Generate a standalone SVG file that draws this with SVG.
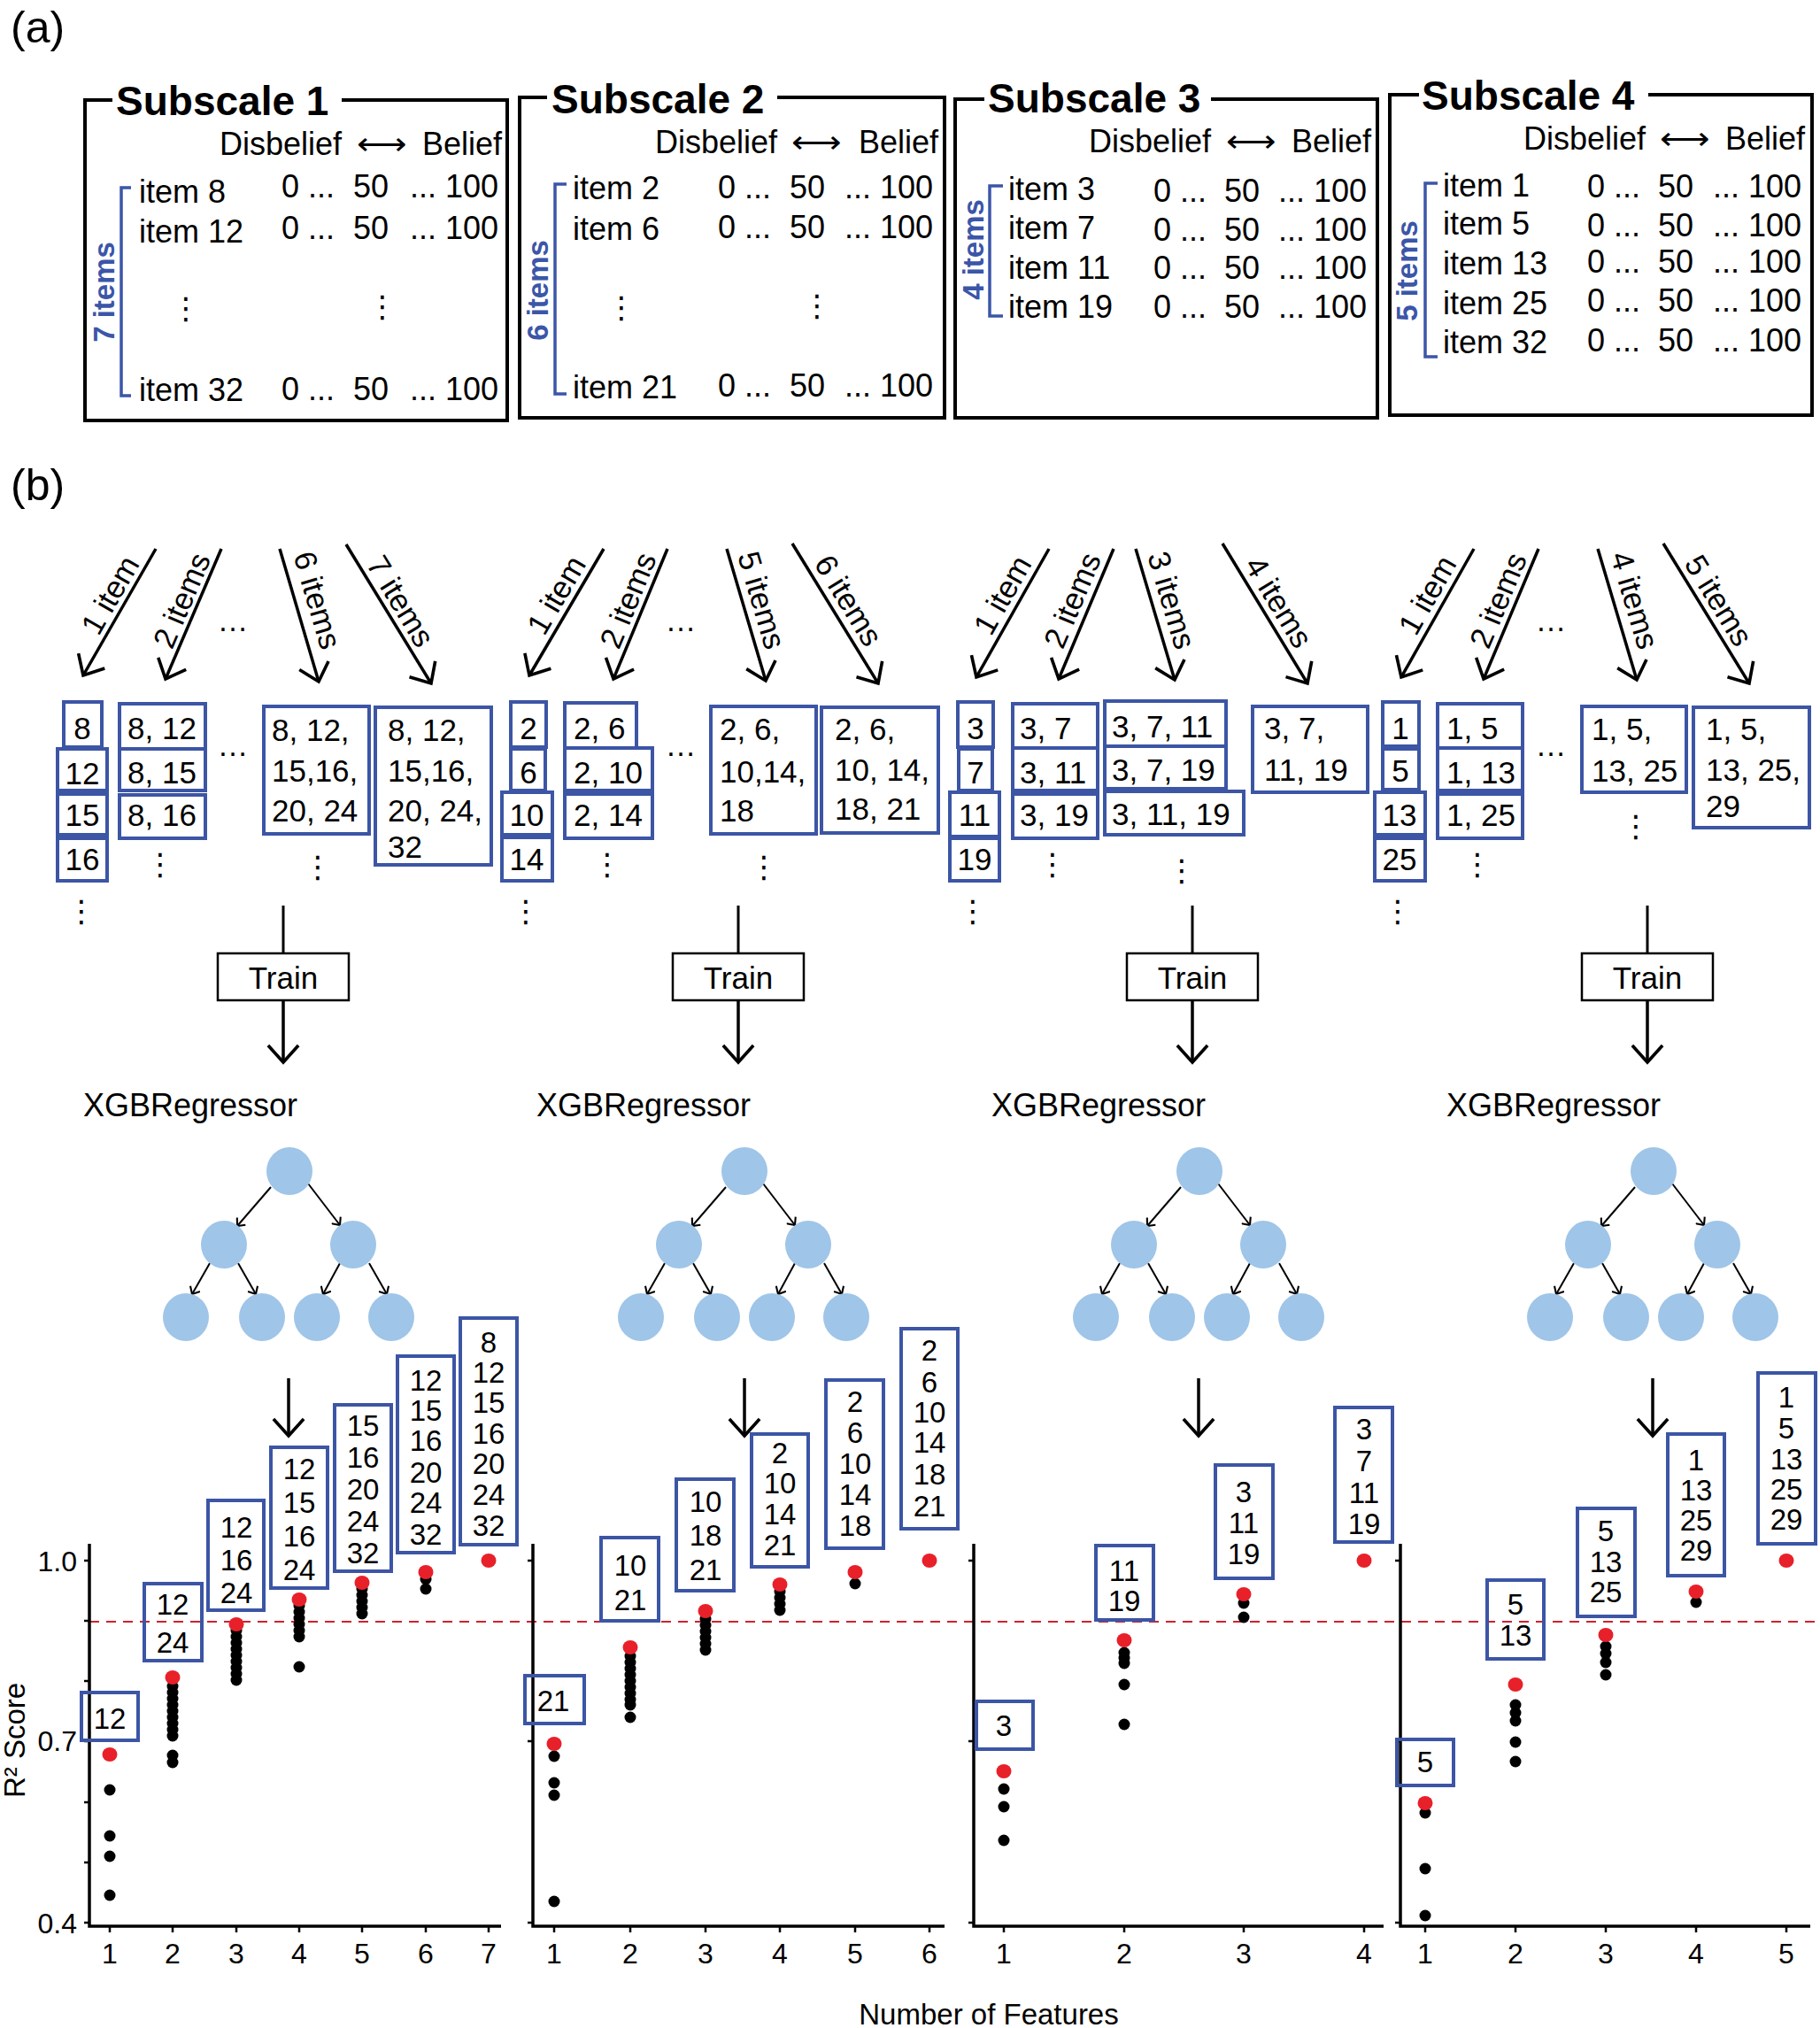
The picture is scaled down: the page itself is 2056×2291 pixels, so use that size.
<svg xmlns="http://www.w3.org/2000/svg" width="2056" height="2291" viewBox="0 0 2056 2291">
<defs>
<style>
text{font-family:"Liberation Sans",Arial,sans-serif;fill:#000}
.lab{font-size:50px}
.ttl{font-size:46px;font-weight:bold}
.f36{font-size:36px}
.f35{font-size:35px}
.f33{font-size:33px}
.f30{font-size:32px}
.vd{font-family:"DejaVu Sans",sans-serif;font-size:34px;text-anchor:middle}
.frame{fill:none;stroke:#000;stroke-width:4}
.brk{fill:none;stroke:#3b56a8;stroke-width:3.5}
.btxt{fill:#3b56a8;font-size:33px;font-weight:bold;text-anchor:middle}
.bb{fill:none;stroke:#3c55a5;stroke-width:4}
.arr{stroke:#000;stroke-width:3.5;fill:none;marker-end:url(#ah)}
.tarr{stroke:#000;stroke-width:2;fill:none;marker-end:url(#ahs)}
.ln{stroke:#000;stroke-width:3;fill:none}
.tb{fill:#fff;stroke:#000;stroke-width:2.5}
.node{fill:#9fc5e8}
.ax{stroke:#000;stroke-width:3.5;fill:none}
.tk{stroke:#000;stroke-width:2.5}
.dash{stroke:#d0212d;stroke-width:2;stroke-dasharray:11 8;fill:none}
.bk{fill:#000}
.rd{fill:#e8202a}
.mid{text-anchor:middle}
.end{text-anchor:end}
</style>
<marker id="ah" viewBox="0 0 20 20" refX="15" refY="10" markerWidth="38" markerHeight="38" markerUnits="userSpaceOnUse" orient="auto"><path d="M5,1 L15,10 L5,19" fill="none" stroke="#000" stroke-width="1.9"/></marker>
<marker id="ahs" viewBox="0 0 20 20" refX="15" refY="10" markerWidth="14" markerHeight="14" markerUnits="userSpaceOnUse" orient="auto"><path d="M5,1 L15,10 L5,19" fill="none" stroke="#000" stroke-width="3"/></marker>
<g id="tree">
<line class="tarr" x1="-21" y1="18" x2="-59" y2="62"/>
<line class="tarr" x1="21" y1="14" x2="57" y2="61"/>
<line class="tarr" x1="-90" y1="104" x2="-110" y2="139"/>
<line class="tarr" x1="-58" y1="104" x2="-38" y2="139"/>
<line class="tarr" x1="57" y1="104" x2="38" y2="139"/>
<line class="tarr" x1="90" y1="104" x2="110" y2="139"/>
<ellipse class="node" cx="0" cy="0" rx="26" ry="27"/>
<ellipse class="node" cx="-74" cy="83" rx="26" ry="27"/>
<ellipse class="node" cx="72" cy="83" rx="26" ry="27"/>
<ellipse class="node" cx="-117" cy="165" rx="26" ry="27"/>
<ellipse class="node" cx="-31" cy="165" rx="26" ry="27"/>
<ellipse class="node" cx="31" cy="165" rx="26" ry="27"/>
<ellipse class="node" cx="115" cy="165" rx="26" ry="27"/>
</g>
</defs>
<rect width="2056" height="2291" fill="#fff"/>

<text class="lab" x="12" y="48">(a)</text>
<text class="lab" x="12" y="565">(b)</text>

<!-- Part (a) -->
<g id="subscale1">
<path class="frame" d="M386,113 H573 V475 H96 V113 H127"/>
<text class="ttl" x="131" y="130">Subscale 1</text>
<text class="f36" x="248" y="175">Disbelief</text><text class="f36" x="403" y="175" textLength="57" lengthAdjust="spacingAndGlyphs">⟷</text><text class="f36" x="477" y="175">Belief</text>
<path class="brk" d="M148,212 H137 V447 H148"/>
<text class="btxt" transform="translate(117,330) rotate(-90)" dominant-baseline="central">7 items</text>
<text class="f36" x="157" y="229">item 8</text>
<text class="f36" x="157" y="274">item 12</text>
<text class="f36" x="157" y="453">item 32</text>
<text class="f36" y="223"><tspan x="318">0 ...</tspan><tspan x="399">50</tspan><tspan x="463">... 100</tspan></text>
<text class="f36" y="270"><tspan x="318">0 ...</tspan><tspan x="399">50</tspan><tspan x="463">... 100</tspan></text>
<text class="f36" y="452"><tspan x="318">0 ...</tspan><tspan x="399">50</tspan><tspan x="463">... 100</tspan></text>
<text class="vd" x="210" y="360">⋮</text><text class="vd" x="432" y="358">⋮</text>
</g>
<g id="subscale2">
<path class="frame" d="M878,110 H1067 V472 H587 V110 H618"/>
<text class="ttl" x="623" y="128">Subscale 2</text>
<text class="f36" x="740" y="173">Disbelief</text><text class="f36" x="894" y="173" textLength="57" lengthAdjust="spacingAndGlyphs">⟷</text><text class="f36" x="970" y="173">Belief</text>
<path class="brk" d="M640,208 H627 V445 H640"/>
<text class="btxt" transform="translate(607,328) rotate(-90)" dominant-baseline="central">6 items</text>
<text class="f36" x="647" y="225">item 2</text>
<text class="f36" x="647" y="271">item 6</text>
<text class="f36" x="647" y="450">item 21</text>
<text class="f36" y="224"><tspan x="811">0 ...</tspan><tspan x="892">50</tspan><tspan x="954">... 100</tspan></text>
<text class="f36" y="269"><tspan x="811">0 ...</tspan><tspan x="892">50</tspan><tspan x="954">... 100</tspan></text>
<text class="f36" y="448"><tspan x="811">0 ...</tspan><tspan x="892">50</tspan><tspan x="954">... 100</tspan></text>
<text class="vd" x="702" y="359">⋮</text><text class="vd" x="923" y="357">⋮</text>
</g>
<g id="subscale3">
<path class="frame" d="M1368,112 H1556 V472 H1079 V112 H1112"/>
<text class="ttl" x="1116" y="127">Subscale 3</text>
<text class="f36" x="1230" y="172">Disbelief</text><text class="f36" x="1385" y="172" textLength="57" lengthAdjust="spacingAndGlyphs">⟷</text><text class="f36" x="1459" y="172">Belief</text>
<path class="brk" d="M1133,210 H1118 V357 H1133"/>
<text class="btxt" transform="translate(1099,282) rotate(-90)" dominant-baseline="central">4 items</text>
<text class="f36" x="1139" y="226">item 3</text>
<text class="f36" x="1139" y="270">item 7</text>
<text class="f36" x="1139" y="315">item 11</text>
<text class="f36" x="1139" y="359">item 19</text>
<text class="f36" y="228"><tspan x="1303">0 ...</tspan><tspan x="1383">50</tspan><tspan x="1444">... 100</tspan></text>
<text class="f36" y="272"><tspan x="1303">0 ...</tspan><tspan x="1383">50</tspan><tspan x="1444">... 100</tspan></text>
<text class="f36" y="315"><tspan x="1303">0 ...</tspan><tspan x="1383">50</tspan><tspan x="1444">... 100</tspan></text>
<text class="f36" y="359"><tspan x="1303">0 ...</tspan><tspan x="1383">50</tspan><tspan x="1444">... 100</tspan></text>
</g>
<g id="subscale4">
<path class="frame" d="M1862,107 H2047 V469 H1570 V107 H1603"/>
<text class="ttl" x="1606" y="124">Subscale 4</text>
<text class="f36" x="1721" y="169">Disbelief</text><text class="f36" x="1875" y="169" textLength="57" lengthAdjust="spacingAndGlyphs">⟷</text><text class="f36" x="1949" y="169">Belief</text>
<path class="brk" d="M1624,207 H1610 V403 H1624"/>
<text class="btxt" transform="translate(1589,306) rotate(-90)" dominant-baseline="central">5 items</text>
<text class="f36" x="1630" y="222">item 1</text>
<text class="f36" x="1630" y="265">item 5</text>
<text class="f36" x="1630" y="310">item 13</text>
<text class="f36" x="1630" y="355">item 25</text>
<text class="f36" x="1630" y="399">item 32</text>
<text class="f36" y="223"><tspan x="1793">0 ...</tspan><tspan x="1873">50</tspan><tspan x="1935">... 100</tspan></text>
<text class="f36" y="267"><tspan x="1793">0 ...</tspan><tspan x="1873">50</tspan><tspan x="1935">... 100</tspan></text>
<text class="f36" y="308"><tspan x="1793">0 ...</tspan><tspan x="1873">50</tspan><tspan x="1935">... 100</tspan></text>
<text class="f36" y="352"><tspan x="1793">0 ...</tspan><tspan x="1873">50</tspan><tspan x="1935">... 100</tspan></text>
<text class="f36" y="397"><tspan x="1793">0 ...</tspan><tspan x="1873">50</tspan><tspan x="1935">... 100</tspan></text>
</g>

<!-- Connectors -->
<g id="connectors">
<line class="arr" x1="176" y1="620" x2="94" y2="763"/>
<line class="arr" x1="250" y1="620" x2="187" y2="767"/>
<line class="arr" x1="316" y1="620" x2="360" y2="770"/>
<line class="arr" x1="391" y1="615" x2="487" y2="772"/>
<line class="arr" x1="682" y1="620" x2="598" y2="763"/>
<line class="arr" x1="754" y1="620" x2="693" y2="767"/>
<line class="arr" x1="821" y1="620" x2="865" y2="769"/>
<line class="arr" x1="895" y1="614" x2="992" y2="772"/>
<line class="arr" x1="1185" y1="620" x2="1103" y2="765"/>
<line class="arr" x1="1258" y1="620" x2="1196" y2="767"/>
<line class="arr" x1="1283" y1="620" x2="1327" y2="768"/>
<line class="arr" x1="1381" y1="614" x2="1477" y2="772"/>
<line class="arr" x1="1665" y1="620" x2="1583" y2="765"/>
<line class="arr" x1="1738" y1="620" x2="1676" y2="767"/>
<line class="arr" x1="1805" y1="620" x2="1849" y2="768"/>
<line class="arr" x1="1879" y1="614" x2="1976" y2="772"/>
<line class="ln" x1="320" y1="1023" x2="320" y2="1077"/>
<line class="arr" x1="320" y1="1130" x2="320" y2="1200"/>
<line class="ln" x1="834" y1="1023" x2="834" y2="1077"/>
<line class="arr" x1="834" y1="1130" x2="834" y2="1200"/>
<line class="ln" x1="1347" y1="1023" x2="1347" y2="1077"/>
<line class="arr" x1="1347" y1="1130" x2="1347" y2="1200"/>
<line class="ln" x1="1861" y1="1023" x2="1861" y2="1077"/>
<line class="arr" x1="1861" y1="1130" x2="1861" y2="1200"/>
<line class="arr" x1="326" y1="1557" x2="326" y2="1622"/>
<line class="arr" x1="841" y1="1557" x2="841" y2="1622"/>
<line class="arr" x1="1354" y1="1557" x2="1354" y2="1622"/>
<line class="arr" x1="1867" y1="1557" x2="1867" y2="1622"/>
</g>

<!-- arrow labels -->
<g id="arrow-labels" class="f35">
<text class="mid" transform="translate(124,672) rotate(-60.2)" dominant-baseline="central">1 item</text>
<text class="mid" transform="translate(205,678) rotate(-66.8)" dominant-baseline="central">2 items</text>
<text class="mid" transform="translate(359,678) rotate(73.7)" dominant-baseline="central">6 items</text>
<text class="mid" transform="translate(453,679) rotate(58.6)" dominant-baseline="central">7 items</text>
<text class="mid" x="263" y="713">…</text>
<text class="mid" transform="translate(628,672) rotate(-59.6)" dominant-baseline="central">1 item</text>
<text class="mid" transform="translate(709,678) rotate(-67.5)" dominant-baseline="central">2 items</text>
<text class="mid" transform="translate(861,678) rotate(73.5)" dominant-baseline="central">5 items</text>
<text class="mid" transform="translate(959,678) rotate(58.5)" dominant-baseline="central">6 items</text>
<text class="mid" x="769" y="713">…</text>
<text class="mid" transform="translate(1132,672) rotate(-60.5)" dominant-baseline="central">1 item</text>
<text class="mid" transform="translate(1211,678) rotate(-67.1)" dominant-baseline="central">2 items</text>
<text class="mid" transform="translate(1324,678) rotate(73.4)" dominant-baseline="central">3 items</text>
<text class="mid" transform="translate(1445,680) rotate(58.7)" dominant-baseline="central">4 items</text>
<text class="mid" transform="translate(1612,672) rotate(-60.5)" dominant-baseline="central">1 item</text>
<text class="mid" transform="translate(1692,678) rotate(-67.1)" dominant-baseline="central">2 items</text>
<text class="mid" transform="translate(1847,678) rotate(73.4)" dominant-baseline="central">4 items</text>
<text class="mid" transform="translate(1942,678) rotate(58.5)" dominant-baseline="central">5 items</text>
<text class="mid" x="1752" y="713">…</text>
</g>

<!-- Combination boxes -->
<g id="combos1" class="f35">
<rect class="bb" x="72" y="793" width="43" height="51"/><text class="mid" x="93" y="835">8</text>
<rect class="bb" x="65" y="846" width="56" height="47"/><text class="mid" x="93" y="886">12</text>
<rect class="bb" x="65" y="897" width="56" height="46"/><text class="mid" x="93" y="933">15</text>
<rect class="bb" x="65" y="947" width="56" height="48"/><text class="mid" x="93" y="983">16</text>
<text class="vd" x="92" y="1041">⋮</text>
<rect class="bb" x="135" y="795" width="97" height="51"/><text x="144" y="835">8, 12</text>
<rect class="bb" x="135" y="846" width="97" height="47"/><text x="144" y="885">8, 15</text>
<rect class="bb" x="135" y="898" width="97" height="49"/><text x="144" y="933">8, 16</text>
<text class="vd" x="181" y="988">⋮</text>
<text class="mid" x="263" y="854">…</text>
<rect class="bb" x="298" y="798" width="119" height="144"/><text x="307" y="837">8, 12,<tspan x="307" y="883">15,16,</tspan><tspan x="307" y="928">20, 24</tspan></text>
<text class="vd" x="359" y="991">⋮</text>
<rect class="bb" x="424" y="799" width="131" height="178"/><text x="438" y="837">8, 12,<tspan x="438" y="883">15,16,</tspan><tspan x="438" y="928">20, 24,</tspan><tspan x="438" y="969">32</tspan></text>
</g>
<g id="combos2" class="f35">
<rect class="bb" x="577" y="793" width="40" height="51"/><text class="mid" x="597" y="835">2</text>
<rect class="bb" x="577" y="846" width="39" height="47"/><text class="mid" x="597" y="885">6</text>
<rect class="bb" x="567" y="895" width="57" height="48"/><text class="mid" x="595" y="933">10</text>
<rect class="bb" x="567" y="946" width="57" height="49"/><text class="mid" x="595" y="983">14</text>
<text class="vd" x="594" y="1041">⋮</text>
<rect class="bb" x="638" y="794" width="81" height="51"/><text x="648" y="835">2, 6</text>
<rect class="bb" x="638" y="845" width="99" height="48"/><text x="648" y="885">2, 10</text>
<rect class="bb" x="638" y="897" width="99" height="50"/><text x="648" y="933">2, 14</text>
<text class="vd" x="686" y="988">⋮</text>
<text class="mid" x="769" y="854">…</text>
<rect class="bb" x="803" y="798" width="119" height="144"/><text x="813" y="836">2, 6,<tspan x="813" y="884">10,14,</tspan><tspan x="813" y="928">18</tspan></text>
<text class="vd" x="863" y="991">⋮</text>
<rect class="bb" x="928" y="799" width="132" height="142"/><text x="943" y="836">2, 6,<tspan x="943" y="882">10, 14,</tspan><tspan x="943" y="926">18, 21</tspan></text>
</g>
<g id="combos3" class="f35">
<rect class="bb" x="1082" y="793" width="40" height="51"/><text class="mid" x="1102" y="835">3</text>
<rect class="bb" x="1083" y="846" width="38" height="47"/><text class="mid" x="1102" y="885">7</text>
<rect class="bb" x="1073" y="895" width="56" height="50"/><text class="mid" x="1101" y="933">11</text>
<rect class="bb" x="1073" y="947" width="56" height="48"/><text class="mid" x="1101" y="983">19</text>
<text class="vd" x="1099" y="1041">⋮</text>
<rect class="bb" x="1144" y="795" width="96" height="50"/><text x="1152" y="835">3, 7</text>
<rect class="bb" x="1144" y="845" width="96" height="48"/><text x="1152" y="885">3, 11</text>
<rect class="bb" x="1144" y="897" width="96" height="50"/><text x="1152" y="933">3, 19</text>
<text class="vd" x="1189" y="988">⋮</text>
<rect class="bb" x="1248" y="792" width="137" height="51"/><text x="1256" y="833">3, 7, 11</text>
<rect class="bb" x="1248" y="843" width="137" height="48"/><text x="1256" y="882">3, 7, 19</text>
<rect class="bb" x="1248" y="894" width="157" height="49"/><text x="1256" y="932">3, 11, 19</text>
<text class="vd" x="1335" y="995">⋮</text>
<rect class="bb" x="1415" y="798" width="130" height="97"/><text x="1428" y="835">3, 7,<tspan x="1428" y="882">11, 19</tspan></text>
</g>
<g id="combos4" class="f35">
<rect class="bb" x="1562" y="793" width="41" height="50"/><text class="mid" x="1582" y="835">1</text>
<rect class="bb" x="1562" y="846" width="41" height="46"/><text class="mid" x="1582" y="883">5</text>
<rect class="bb" x="1553" y="895" width="57" height="48"/><text class="mid" x="1581" y="933">13</text>
<rect class="bb" x="1553" y="947" width="57" height="48"/><text class="mid" x="1581" y="983">25</text>
<text class="vd" x="1579" y="1041">⋮</text>
<rect class="bb" x="1624" y="795" width="96" height="50"/><text x="1634" y="835">1, 5</text>
<rect class="bb" x="1624" y="845" width="96" height="48"/><text x="1634" y="885">1, 13</text>
<rect class="bb" x="1624" y="897" width="96" height="50"/><text x="1634" y="933">1, 25</text>
<text class="vd" x="1669" y="988">⋮</text>
<text class="mid" x="1752" y="854">…</text>
<rect class="bb" x="1787" y="798" width="118" height="97"/><text x="1798" y="836">1, 5,<tspan x="1798" y="883">13, 25</tspan></text>
<text class="vd" x="1848" y="945">⋮</text>
<rect class="bb" x="1913" y="799" width="131" height="136"/><text x="1927" y="836">1, 5,<tspan x="1927" y="882">13, 25,</tspan><tspan x="1927" y="923">29</tspan></text>
</g>

<!-- Train + model -->
<g id="train1"><rect class="tb" x="246" y="1077" width="148" height="53"/><text class="f35 mid" x="320" y="1117">Train</text><text class="f36" x="94" y="1261">XGBRegressor</text><use href="#tree" transform="translate(327,1323)"/></g>
<g id="train2"><rect class="tb" x="760" y="1077" width="148" height="53"/><text class="f35 mid" x="834" y="1117">Train</text><text class="f36" x="606" y="1261">XGBRegressor</text><use href="#tree" transform="translate(841,1323)"/></g>
<g id="train3"><rect class="tb" x="1273" y="1077" width="148" height="53"/><text class="f35 mid" x="1347" y="1117">Train</text><text class="f36" x="1120" y="1261">XGBRegressor</text><use href="#tree" transform="translate(1355,1323)"/></g>
<g id="train4"><rect class="tb" x="1787" y="1077" width="148" height="53"/><text class="f35 mid" x="1861" y="1117">Train</text><text class="f36" x="1634" y="1261">XGBRegressor</text><use href="#tree" transform="translate(1868,1323)"/></g>

<!-- Charts -->
<g id="charts">
<line class="dash" x1="101" y1="1832" x2="2056" y2="1832"/>
<path class="ax" d="M101,1744 V2176 H566"/>
<path class="ax" d="M602,1744 V2176 H1067"/>
<path class="ax" d="M1100,1744 V2176 H1563"/>
<path class="ax" d="M1582,1744 V2176 H2045"/>
<path class="tk" d="M95,1763H101M95,1831H101M95,1899H101M95,1967H101M95,2036H101M95,2104H101M95,2172H101
M596,1763H602M596,1967H602M596,2172H602M1094,1763H1100M1094,1967H1100M1094,2172H1100M1576,1763H1582M1576,1967H1582M1576,2172H1582
M124,2176V2183M195,2176V2183M267,2176V2183M338,2176V2183M409,2176V2183M481,2176V2183M552,2176V2183
M626,2176V2183M712,2176V2183M797,2176V2183M881,2176V2183M966,2176V2183M1050,2176V2183
M1134,2176V2183M1270,2176V2183M1405,2176V2183M1541,2176V2183
M1610,2176V2183M1712,2176V2183M1814,2176V2183M1916,2176V2183M2018,2176V2183"/>
<g class="f30">
<text class="end" x="87" y="1775">1.0</text><text class="end" x="87" y="1978">0.7</text><text class="end" x="87" y="2184">0.4</text>
<g class="mid">
<text x="124" y="2218">1</text><text x="195" y="2218">2</text><text x="267" y="2218">3</text><text x="338" y="2218">4</text><text x="409" y="2218">5</text><text x="481" y="2218">6</text><text x="552" y="2218">7</text>
<text x="626" y="2218">1</text><text x="712" y="2218">2</text><text x="797" y="2218">3</text><text x="881" y="2218">4</text><text x="966" y="2218">5</text><text x="1050" y="2218">6</text>
<text x="1134" y="2218">1</text><text x="1270" y="2218">2</text><text x="1405" y="2218">3</text><text x="1541" y="2218">4</text>
<text x="1610" y="2218">1</text><text x="1712" y="2218">2</text><text x="1814" y="2218">3</text><text x="1916" y="2218">4</text><text x="2018" y="2218">5</text>
</g>
</g>
<text class="f33 mid" transform="translate(16,1966) rotate(-90)" dominant-baseline="central">R² Score</text>
<text class="f33 mid" x="1117" y="2287">Number of Features</text>

<g id="black-dots" class="bk">
<circle cx="124" cy="2022" r="6.5"/><circle cx="124" cy="2074" r="6.5"/><circle cx="124" cy="2097" r="6.5"/><circle cx="124" cy="2141" r="6.5"/>
<circle cx="195" cy="1905" r="6.5"/><circle cx="195" cy="1912" r="6.5"/><circle cx="195" cy="1919" r="6.5"/><circle cx="195" cy="1926" r="6.5"/><circle cx="195" cy="1933" r="6.5"/><circle cx="195" cy="1940" r="6.5"/><circle cx="195" cy="1947" r="6.5"/><circle cx="195" cy="1954" r="6.5"/><circle cx="195" cy="1961" r="6.5"/><circle cx="195" cy="1983" r="6.5"/><circle cx="195" cy="1991" r="6.5"/>
<circle cx="267" cy="1842" r="6.5"/><circle cx="267" cy="1849" r="6.5"/><circle cx="267" cy="1856" r="6.5"/><circle cx="267" cy="1863" r="6.5"/><circle cx="267" cy="1870" r="6.5"/><circle cx="267" cy="1877" r="6.5"/><circle cx="267" cy="1884" r="6.5"/><circle cx="267" cy="1891" r="6.5"/><circle cx="267" cy="1898" r="6.5"/>
<circle cx="338" cy="1814" r="6.5"/><circle cx="338" cy="1821" r="6.5"/><circle cx="338" cy="1828" r="6.5"/><circle cx="338" cy="1835" r="6.5"/><circle cx="338" cy="1842" r="6.5"/><circle cx="338" cy="1849" r="6.5"/><circle cx="338" cy="1883" r="6.5"/>
<circle cx="409" cy="1795" r="6.5"/><circle cx="409" cy="1802" r="6.5"/><circle cx="409" cy="1809" r="6.5"/><circle cx="409" cy="1816" r="6.5"/><circle cx="409" cy="1823" r="6.5"/>
<circle cx="481" cy="1784" r="6.5"/><circle cx="481" cy="1795" r="6.5"/>
<circle cx="626" cy="1984" r="6.5"/><circle cx="626" cy="2014" r="6.5"/><circle cx="626" cy="2028" r="6.5"/><circle cx="626" cy="2148" r="6.5"/>
<circle cx="712" cy="1871" r="6.5"/><circle cx="712" cy="1878" r="6.5"/><circle cx="712" cy="1885" r="6.5"/><circle cx="712" cy="1892" r="6.5"/><circle cx="712" cy="1899" r="6.5"/><circle cx="712" cy="1906" r="6.5"/><circle cx="712" cy="1913" r="6.5"/><circle cx="712" cy="1920" r="6.5"/><circle cx="712" cy="1926" r="6.5"/><circle cx="712" cy="1940" r="6.5"/>
<circle cx="797" cy="1829" r="6.5"/><circle cx="797" cy="1836" r="6.5"/><circle cx="797" cy="1843" r="6.5"/><circle cx="797" cy="1850" r="6.5"/><circle cx="797" cy="1857" r="6.5"/><circle cx="797" cy="1864" r="6.5"/>
<circle cx="881" cy="1798" r="6.5"/><circle cx="881" cy="1805" r="6.5"/><circle cx="881" cy="1812" r="6.5"/><circle cx="881" cy="1819" r="6.5"/>
<circle cx="966" cy="1789" r="6.5"/>
<circle cx="1134" cy="2021" r="6.5"/><circle cx="1134" cy="2041" r="6.5"/><circle cx="1134" cy="2079" r="6.5"/>
<circle cx="1270" cy="1867" r="6.5"/><circle cx="1270" cy="1873" r="6.5"/><circle cx="1270" cy="1879" r="6.5"/><circle cx="1270" cy="1903" r="6.5"/><circle cx="1270" cy="1948" r="6.5"/>
<circle cx="1405" cy="1811" r="6.5"/><circle cx="1405" cy="1827" r="6.5"/>
<circle cx="1610" cy="2048" r="6.5"/><circle cx="1610" cy="2111" r="6.5"/><circle cx="1610" cy="2164" r="6.5"/>
<circle cx="1712" cy="1926" r="6.5"/><circle cx="1712" cy="1935" r="6.5"/><circle cx="1712" cy="1944" r="6.5"/><circle cx="1712" cy="1968" r="6.5"/><circle cx="1712" cy="1990" r="6.5"/>
<circle cx="1814" cy="1860" r="6.5"/><circle cx="1814" cy="1868" r="6.5"/><circle cx="1814" cy="1878" r="6.5"/><circle cx="1814" cy="1892" r="6.5"/>
<circle cx="1916" cy="1810" r="6.5"/>
</g>
<g id="red-dots" class="rd">
<ellipse cx="124" cy="1982" rx="8.5" ry="8"/><ellipse cx="195" cy="1895" rx="8.5" ry="8"/><ellipse cx="267" cy="1835" rx="8.5" ry="8"/><ellipse cx="338" cy="1807" rx="8.5" ry="8"/><ellipse cx="409" cy="1788" rx="8.5" ry="8"/><ellipse cx="481" cy="1776" rx="8.5" ry="8"/><ellipse cx="552" cy="1763" rx="8.5" ry="8"/>
<ellipse cx="626" cy="1970" rx="8.5" ry="8"/><ellipse cx="712" cy="1861" rx="8.5" ry="8"/><ellipse cx="797" cy="1820" rx="8.5" ry="8"/><ellipse cx="881" cy="1790" rx="8.5" ry="8"/><ellipse cx="966" cy="1776" rx="8.5" ry="8"/><ellipse cx="1050" cy="1763" rx="8.5" ry="8"/>
<ellipse cx="1134" cy="2001" rx="8.5" ry="8"/><ellipse cx="1270" cy="1853" rx="8.5" ry="8"/><ellipse cx="1405" cy="1801" rx="8.5" ry="8"/><ellipse cx="1541" cy="1763" rx="8.5" ry="8"/>
<ellipse cx="1610" cy="2037" rx="8.5" ry="8"/><ellipse cx="1712" cy="1903" rx="8.5" ry="8"/><ellipse cx="1814" cy="1847" rx="8.5" ry="8"/><ellipse cx="1916" cy="1798" rx="8.5" ry="8"/><ellipse cx="2018" cy="1763" rx="8.5" ry="8"/>
</g>
</g>

<!-- Selected feature boxes -->
<g id="sel1" class="f33 mid">
<rect class="bb" x="92" y="1912" width="64" height="54"/><text x="124" y="1953">12</text>
<rect class="bb" x="163" y="1789" width="65" height="87"/><text x="195" y="1824">12<tspan x="195" y="1867">24</tspan></text>
<rect class="bb" x="235" y="1695" width="63" height="124"/><text x="267" y="1737">12<tspan x="267" y="1774">16</tspan><tspan x="267" y="1811">24</tspan></text>
<rect class="bb" x="306" y="1635" width="64" height="159"/><text x="338" y="1671">12<tspan x="338" y="1709">15</tspan><tspan x="338" y="1747">16</tspan><tspan x="338" y="1785">24</tspan></text>
<rect class="bb" x="378" y="1587" width="64" height="188"/><text x="410" y="1622">15<tspan x="410" y="1658">16</tspan><tspan x="410" y="1694">20</tspan><tspan x="410" y="1730">24</tspan><tspan x="410" y="1766">32</tspan></text>
<rect class="bb" x="449" y="1532" width="64" height="222"/><text x="481" y="1571">12<tspan x="481" y="1605">15</tspan><tspan x="481" y="1639">16</tspan><tspan x="481" y="1675">20</tspan><tspan x="481" y="1709">24</tspan><tspan x="481" y="1745">32</tspan></text>
<rect class="bb" x="520" y="1489" width="64" height="256"/><text x="552" y="1528">8<tspan x="552" y="1562">12</tspan><tspan x="552" y="1596">15</tspan><tspan x="552" y="1631">16</tspan><tspan x="552" y="1665">20</tspan><tspan x="552" y="1700">24</tspan><tspan x="552" y="1735">32</tspan></text>
</g>
<g id="sel2" class="f33 mid">
<rect class="bb" x="593" y="1893" width="67" height="54"/><text x="625" y="1933">21</text>
<rect class="bb" x="679" y="1737" width="65" height="94"/><text x="712" y="1780">10<tspan x="712" y="1819">21</tspan></text>
<rect class="bb" x="764" y="1671" width="65" height="126"/><text x="797" y="1708">10<tspan x="797" y="1746">18</tspan><tspan x="797" y="1785">21</tspan></text>
<rect class="bb" x="849" y="1620" width="64" height="150"/><text x="881" y="1653">2<tspan x="881" y="1687">10</tspan><tspan x="881" y="1722">14</tspan><tspan x="881" y="1757">21</tspan></text>
<rect class="bb" x="933" y="1559" width="65" height="190"/><text x="966" y="1595">2<tspan x="966" y="1630">6</tspan><tspan x="966" y="1665">10</tspan><tspan x="966" y="1700">14</tspan><tspan x="966" y="1735">18</tspan></text>
<rect class="bb" x="1018" y="1501" width="64" height="226"/><text x="1050" y="1537">2<tspan x="1050" y="1573">6</tspan><tspan x="1050" y="1607">10</tspan><tspan x="1050" y="1641">14</tspan><tspan x="1050" y="1677">18</tspan><tspan x="1050" y="1713">21</tspan></text>
</g>
<g id="sel3" class="f33 mid">
<rect class="bb" x="1103" y="1922" width="64" height="54"/><text x="1134" y="1961">3</text>
<rect class="bb" x="1238" y="1746" width="65" height="84"/><text x="1270" y="1786">11<tspan x="1270" y="1820">19</tspan></text>
<rect class="bb" x="1373" y="1655" width="65" height="128"/><text x="1405" y="1697">3<tspan x="1405" y="1732">11</tspan><tspan x="1405" y="1767">19</tspan></text>
<rect class="bb" x="1508" y="1590" width="65" height="152"/><text x="1541" y="1626">3<tspan x="1541" y="1662">7</tspan><tspan x="1541" y="1698">11</tspan><tspan x="1541" y="1733">19</tspan></text>
</g>
<g id="sel4" class="f33 mid">
<rect class="bb" x="1578" y="1965" width="64" height="52"/><text x="1610" y="2002">5</text>
<rect class="bb" x="1680" y="1785" width="64" height="89"/><text x="1712" y="1824">5<tspan x="1712" y="1859">13</tspan></text>
<rect class="bb" x="1782" y="1704" width="65" height="122"/><text x="1814" y="1741">5<tspan x="1814" y="1776">13</tspan><tspan x="1814" y="1810">25</tspan></text>
<rect class="bb" x="1884" y="1620" width="64" height="160"/><text x="1916" y="1661">1<tspan x="1916" y="1695">13</tspan><tspan x="1916" y="1729">25</tspan><tspan x="1916" y="1763">29</tspan></text>
<rect class="bb" x="1986" y="1551" width="65" height="193"/><text x="2018" y="1590">1<tspan x="2018" y="1625">5</tspan><tspan x="2018" y="1660">13</tspan><tspan x="2018" y="1694">25</tspan><tspan x="2018" y="1728">29</tspan></text>
</g>
</svg>
